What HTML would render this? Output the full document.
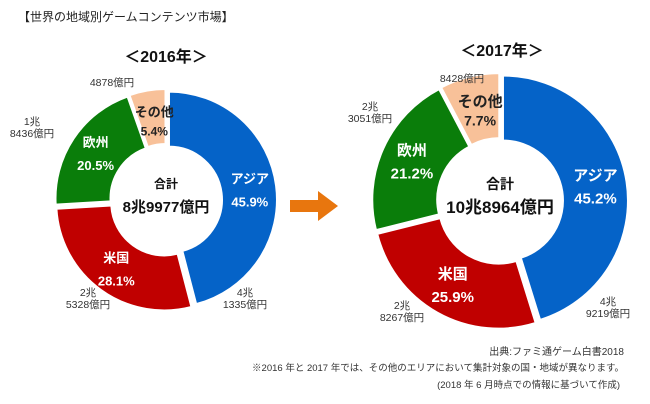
<!DOCTYPE html>
<html><head><meta charset="utf-8"><style>
body{margin:0;background:#fff;}
svg{display:block;font-family:"Liberation Sans","Noto Sans CJK JP",sans-serif;}
</style></head><body>
<svg width="650" height="404" viewBox="0 0 650 404">
<text x="18" y="21" font-size="12" fill="#222">【世界の地域別ゲームコンテンツ市場】</text>
<text x="166" y="62" font-size="16" font-weight="bold" text-anchor="middle" fill="#111">＜2016年＞</text>
<text x="502" y="56" font-size="16" font-weight="bold" text-anchor="middle" fill="#111">＜2017年＞</text>
<g id="d2016"></g>
<g id="d2017"></g>
<polygon points="290,200 318,200 318,191 338,206 318,221 318,212 290,212" fill="#E8760E"/>
<text x="624" y="355" font-size="10" text-anchor="end" fill="#333">出典:ファミ通ゲーム白書2018</text>
<text x="624" y="371" font-size="9.5" text-anchor="end" fill="#333">※2016 年と 2017 年では、その他のエリアにおいて集計対象の国・地域が異なります。</text>
<text x="620" y="388" font-size="9.5" text-anchor="end" fill="#333">(2018 年 6 月時点での情報に基づいて作成)</text>
</svg>
<script>
const regions=["アジア","米国","欧州","その他"];
const colors=["#0563C8","#C00000","#0A7D0A","#F8C199"];
const shares2016=[45.9,28.1,20.5,5.4];
const shares2017=[45.2,25.9,21.2,7.7];
const amounts2016=["4兆|1335億円","2兆|5328億円","1兆|8436億円","4878億円"];
const amounts2017=["4兆|9219億円","2兆|8267億円","2兆|3051億円","8428億円"];
const totals=["8兆9977億円","10兆8964億円"];
const NS="http://www.w3.org/2000/svg";
const off2016=[[79,98],[-78,98],[-134,-73],[-54,-118]];
const off2017=[[108,106],[-98,110],[-130,-89],[-38,-123]];
function mk(t,a,p){const e=document.createElementNS(NS,t);for(const k in a)e.setAttribute(k,a[k]);p.appendChild(e);return e;}
function pt(cx,cy,r,a){return [cx+r*Math.sin(a),cy-r*Math.cos(a)];}
function donut(g,cx,cy,R,r,shares,amounts,total,fs,offs){
  const sum=shares.reduce((a,b)=>a+b,0);let a0=0;
  shares.forEach((v,i)=>{
    const a1=a0+v/sum*2*Math.PI;const large=(a1-a0)>Math.PI?1:0;
    const mid=(a0+a1)/2;const off=3;const dx=off*Math.sin(mid),dy=-off*Math.cos(mid);
    const p1=pt(cx+dx,cy+dy,R,a0),p2=pt(cx+dx,cy+dy,R,a1),p3=pt(cx+dx,cy+dy,r,a1),p4=pt(cx+dx,cy+dy,r,a0);
    const p=mk("path",{d:`M${p1}A${R},${R} 0 ${large} 1 ${p2}L${p3}A${r},${r} 0 ${large} 0 ${p4}Z`,fill:colors[i],stroke:"#fff","stroke-width":2},g);
    
    
    const lr=(R+r)/2+(i==3?-2:4);const [lx,ly]=pt(cx,cy,lr,i==3?mid+0.02:mid);
    const tc=i==3?"#222":"#fff";
    const t1=mk("text",{x:lx,y:ly-6,"font-size":fs,"font-weight":"bold","text-anchor":"middle",fill:tc},g);t1.textContent=regions[i];
    
    
    const t2=mk("text",{x:lx,y:ly+(i==3?13:17),"font-size":fs-(i==3?1:0),"font-weight":"bold","text-anchor":"middle",fill:tc},g);t2.textContent=v.toFixed(1)+"%";
    
    
    const lines=amounts[i].split("|");
    const ax=cx+offs[i][0],ay=cy+offs[i][1];
    lines.forEach((s,j)=>{const t=mk("text",{x:ax,y:ay+j*12-(lines.length-1)*6+4,"font-size":10.5,"text-anchor":"middle",fill:"#333"},g);t.textContent=s;
      
      });
    a0=a1;
  });
  const c1=mk("text",{x:cx,y:cy-12,"font-size":fs-1,"font-weight":"bold","text-anchor":"middle",fill:"#111"},g);c1.textContent="合計";
  
  
  const c2=mk("text",{x:cx,y:cy+12,"font-size":fs+2,"font-weight":"bold","text-anchor":"middle",fill:"#111"},g);c2.textContent=total;
  
  
}
donut(document.getElementById("d2016"),166,200,108,53,shares2016,amounts2016,totals[0],13,off2016);
donut(document.getElementById("d2017"),500,201,125,60,shares2017,amounts2017,totals[1],15,off2017);
</script>
</body></html>
